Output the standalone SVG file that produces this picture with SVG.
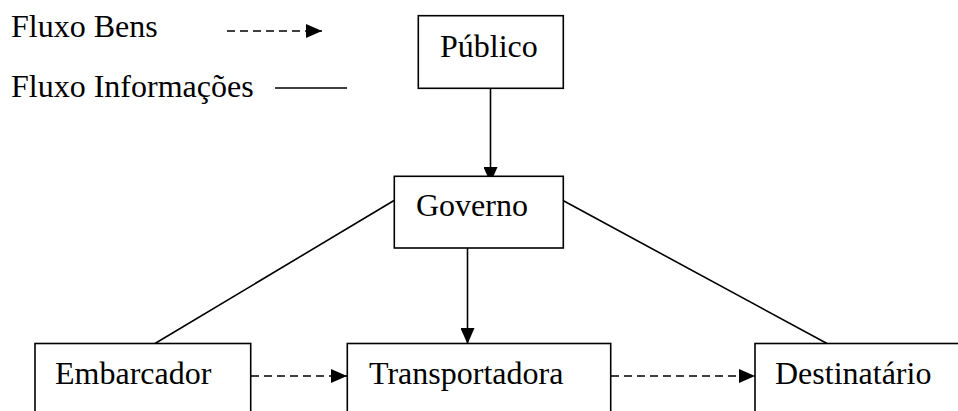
<svg xmlns="http://www.w3.org/2000/svg" width="958" height="411" viewBox="0 0 958 411">
<style>
.box{fill:#fff;stroke:#000;stroke-width:1.6}
.t{font-family:"Liberation Serif","Times New Roman",serif;font-size:32px;fill:#000}
.ln{stroke:#000;stroke-width:1.6;fill:none}
.dash{stroke-dasharray:8 5}
</style>
<defs>
<marker id="ah" markerUnits="userSpaceOnUse" viewBox="0 0 16 14" refX="16" refY="7" markerWidth="16" markerHeight="14" orient="auto">
<path d="M0,0 L16,7 L0,14 Z" fill="#000" stroke="none"/>
</marker>
</defs>
<rect width="958" height="411" fill="#fff"/>
<g id="legend">
<text class="t" x="11" y="37">Fluxo Bens</text>
<text class="t" x="11" y="97">Fluxo Informações</text>
<line class="ln dash" x1="227" y1="31" x2="322" y2="31" marker-end="url(#ah)"/>
<line class="ln" x1="275" y1="88" x2="347" y2="88"/>
</g>
<g id="connectors">
<line class="ln" x1="490.5" y1="88" x2="490.5" y2="183" marker-end="url(#ah)"/>
<line class="ln" x1="467.5" y1="248" x2="467.5" y2="344" marker-end="url(#ah)"/>
<line class="ln" x1="394" y1="200.5" x2="155" y2="343.5"/>
<line class="ln" x1="563" y1="200.5" x2="827" y2="343.5"/>
<line class="ln dash" x1="251" y1="376" x2="347" y2="376" marker-end="url(#ah)"/>
<line class="ln dash" x1="611" y1="376" x2="755" y2="376" marker-end="url(#ah)"/>
</g>
<g id="publico">
<rect class="box" x="418.3" y="15.7" width="145" height="72.6"/>
<text class="t" x="440" y="57">Público</text>
</g>
<g id="governo">
<rect class="box" x="394.3" y="176.3" width="169" height="71.7"/>
<text class="t" x="416" y="216">Governo</text>
</g>
<g id="embarcador">
<rect class="box" x="35" y="343.5" width="215.7" height="80"/>
<text class="t" x="55" y="384">Embarcador</text>
</g>
<g id="transportadora">
<rect class="box" x="347.3" y="343.5" width="263.4" height="80"/>
<text class="t" x="369" y="384">Transportadora</text>
</g>
<g id="destinatario">
<rect class="box" x="755" y="343.5" width="220" height="80"/>
<text class="t" x="775" y="384">Destinatário</text>
</g>
</svg>
